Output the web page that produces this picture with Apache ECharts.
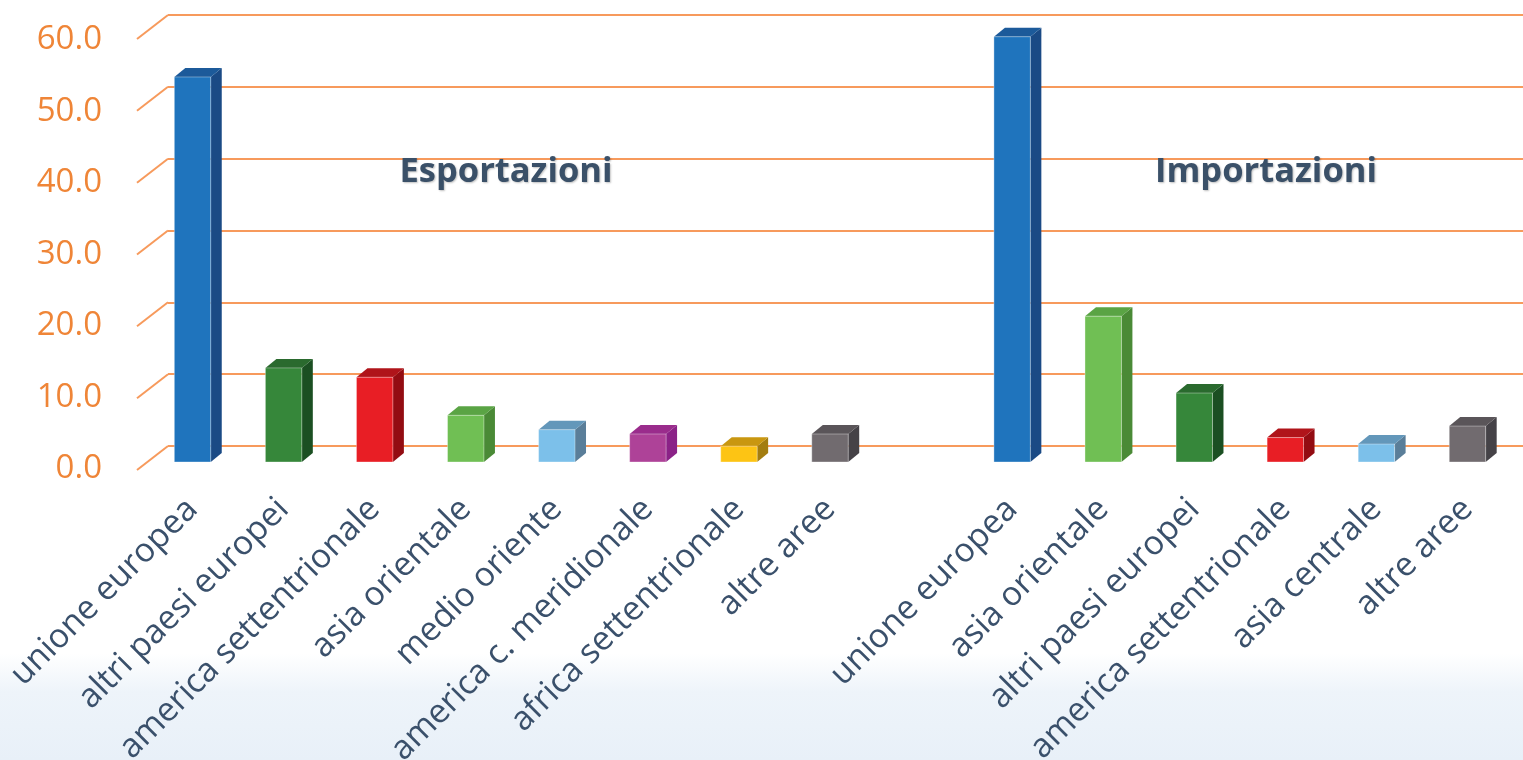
<!DOCTYPE html>
<html>
<head>
<meta charset="utf-8">
<script src="https://cdn.jsdelivr.net/npm/echarts@6/dist/echarts.min.js"></script>
<style>html,body{margin:0;padding:0;background:#fff}#c{width:1523px;height:760px}</style>
</head>
<body>
<div id="c"></div>
<script>
// ---- data ----
const exportCategories = ['unione europea','altri paesi europei','america settentrionale','asia orientale','medio oriente','america c. meridionale','africa settentrionale','altre aree'];
const exportValues = [53.6, 13.1, 11.8, 6.5, 4.5, 3.9, 2.2, 3.9];
const importCategories = ['unione europea','asia orientale','altri paesi europei','america settentrionale','asia centrale','altre aree'];
const importValues = [59.2, 20.3, 9.6, 3.4, 2.5, 5.0];
const yTicks = [0, 10, 20, 30, 40, 50, 60];
const groupTitles = ['Esportazioni', 'Importazioni'];

// ---- styles (per bar: front, side, top) ----
const exportColors = [
  ['#1F74BD','#1A4A85','#1C5A9A'],
  ['#36873A','#1B4F22','#2A6A2E'],
  ['#E81E25','#930C12','#B0141A'],
  ['#70BF54','#4A8A36','#5AA444'],
  ['#7CC0EA','#5A7E99','#6397BA'],
  ['#AE4298','#8B2287','#9A2C8C'],
  ['#FDC414','#A37D10','#C99710'],
  ['#716B6F','#454247','#5A5559']
];
const importColors = [exportColors[0], exportColors[3], exportColors[1], exportColors[2], exportColors[4], exportColors[7]];

const categories = exportCategories.concat([''], importCategories);
const barData = [];
const barColors = [];
exportValues.forEach((v, i) => { barData.push([i, v]); barColors.push(exportColors[i]); });
importValues.forEach((v, i) => { barData.push([exportCategories.length + 1 + i, v]); barColors.push(importColors[i]); });

const DX = 11, DY = -9;
const chart = echarts.init(document.getElementById('c'), null, {renderer: 'canvas'});
const option = {
  animation: false,
  backgroundColor: {type: 'linear', x: 0, y: 0, x2: 0, y2: 1, colorStops: [
    {offset: 0, color: '#ffffff'}, {offset: 0.86, color: '#ffffff'},
    {offset: 0.91, color: '#EEF4FA'}, {offset: 1, color: '#E8F0F8'}]},
  grid: [
    {left: 147, right: 10, top: 31, bottom: 298, outerBoundsMode: 'none', containLabel: false},
    {left: 168, right: 0, top: 15, bottom: 314, outerBoundsMode: 'none', containLabel: false},
    {left: 137, right: 0, top: 40, bottom: 291, outerBoundsMode: 'none', containLabel: false}
  ],
  xAxis: [
    {type: 'category', gridIndex: 0, data: categories, boundaryGap: true,
     axisLine: {show: false}, axisTick: {show: false}, splitLine: {show: false},
     axisLabel: {interval: 0, rotate: 45, margin: 42, color: '#3A506B', fontSize: 33.5, fontFamily: 'Open Sans'}},
    {type: 'value', gridIndex: 1, min: 0, max: 1, show: false},
    {type: 'value', gridIndex: 2, min: 0, max: 1, show: false}
  ],
  yAxis: [
    {type: 'value', gridIndex: 0, min: 0, max: 60, interval: 10, show: false},
    {type: 'value', gridIndex: 1, min: 0, max: 60, interval: 10,
     axisLine: {show: false}, axisTick: {show: false}, axisLabel: {show: false},
     splitLine: {show: true, lineStyle: {color: '#F79A5C', width: 2}}},
    {type: 'value', gridIndex: 2, min: 0, max: 60, interval: 10,
     axisLine: {show: false}, axisTick: {show: false}, splitLine: {show: false},
     axisLabel: {margin: 35, color: '#EF8537', fontSize: 33, fontFamily: 'Open Sans',
       formatter: v => v.toFixed(1)}}
  ],
  series: [
    {
      type: 'custom', xAxisIndex: 1, yAxisIndex: 1, z: 1,
      data: yTicks.map(v => [0, v]),
      renderItem: function (params, api) {
        const p = api.coord([0, api.value(1)]);
        return {type: 'line', shape: {x1: p[0] - 31, y1: p[1] + 24, x2: p[0], y2: p[1]},
          style: {stroke: '#F79A5C', lineWidth: 2}};
      }
    },
    {
      type: 'custom', xAxisIndex: 0, yAxisIndex: 0, z: 5,
      data: barData,
      renderItem: function (params, api) {
        const idx = api.value(0), v = api.value(1);
        const base = api.coord([idx, 0]);
        const top = api.coord([idx, v]);
        const w = api.size([1, 0])[0] * 0.4;
        const x0 = base[0] - w / 2, x1 = base[0] + w / 2;
        const c = barColors[params.dataIndex];
        const yb = base[1], yt = top[1];
        return {type: 'group', children: [
          {type: 'polygon', shape: {points: [[x1, yt], [x1 + DX, yt + DY], [x1 + DX, yb + DY], [x1, yb]]},
           style: {fill: c[1]}},
          {type: 'polygon', shape: {points: [[x0, yt], [x1, yt], [x1 + DX, yt + DY], [x0 + DX, yt + DY]]},
           style: {fill: c[2]}},
          {type: 'rect', shape: {x: x0, y: yt, width: w, height: yb - yt},
           style: {fill: c[0], stroke: 'rgba(255,255,255,0.35)', lineWidth: 1}}
        ]};
      }
    }
  ],
  graphic: [
    {type: 'text', x: 506, y: 172, z: 10, style: {text: groupTitles[0], fill: '#3A5068',
      font: 'bold 34.5px "Open Sans"', textAlign: 'center', textVerticalAlign: 'middle',
      textShadowColor: 'rgba(0,0,0,0.25)', textShadowBlur: 2, textShadowOffsetX: 1, textShadowOffsetY: 1}},
    {type: 'text', x: 1266, y: 172, z: 10, style: {text: groupTitles[1], fill: '#3A5068',
      font: 'bold 34.5px "Open Sans"', textAlign: 'center', textVerticalAlign: 'middle',
      textShadowColor: 'rgba(0,0,0,0.25)', textShadowBlur: 2, textShadowOffsetX: 1, textShadowOffsetY: 1}}
  ]
};
chart.setOption(option);
</script>
</body>
</html>
